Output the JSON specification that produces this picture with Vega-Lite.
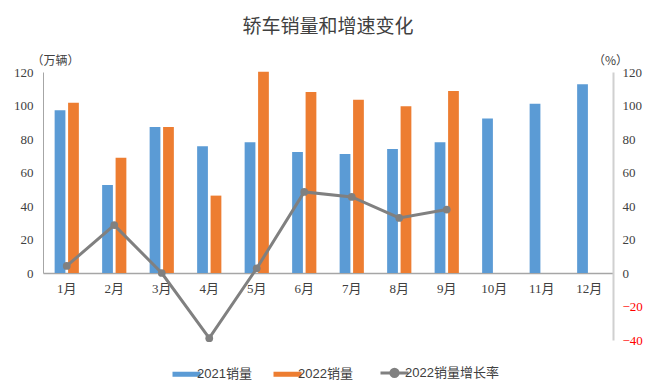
{
  "$schema": "https://vega.github.io/schema/vega-lite/v6.json",
  "width": 570,
  "height": 268,
  "autosize": "none",
  "padding": {"left": 43, "top": 72, "right": 48, "bottom": 48},
  "background": "white",
  "title": {"text": "轿车销量和增速变化", "fontSize": 19, "font": "Noto Sans CJK SC", "fontWeight": "normal", "color": "#404040", "offset": 17, "anchor": "middle"},
  "config": {
    "view": {"stroke": null},
    "axis": {"labelFont": "Liberation Serif, Noto Sans CJK SC", "labelFontSize": 13, "labelColor": "#404040", "ticks": false, "grid": false, "titleFont": "Noto Sans CJK SC", "titleFontWeight": "normal", "titleFontSize": 12, "titleColor": "#404040"}
  },
  "datasets": {
    "sales": [
      {"month": "1月", "series": "2021销量", "value": 97.2},
      {"month": "2月", "series": "2021销量", "value": 52.6},
      {"month": "3月", "series": "2021销量", "value": 87.1},
      {"month": "4月", "series": "2021销量", "value": 75.6},
      {"month": "5月", "series": "2021销量", "value": 78.0},
      {"month": "6月", "series": "2021销量", "value": 72.2},
      {"month": "7月", "series": "2021销量", "value": 71.0},
      {"month": "8月", "series": "2021销量", "value": 74.0},
      {"month": "9月", "series": "2021销量", "value": 78.0},
      {"month": "10月", "series": "2021销量", "value": 92.3},
      {"month": "11月", "series": "2021销量", "value": 101.0},
      {"month": "12月", "series": "2021销量", "value": 112.7},
      {"month": "1月", "series": "2022销量", "value": 101.6},
      {"month": "2月", "series": "2022销量", "value": 68.8},
      {"month": "3月", "series": "2022销量", "value": 87.1},
      {"month": "4月", "series": "2022销量", "value": 46.2},
      {"month": "5月", "series": "2022销量", "value": 120.2},
      {"month": "6月", "series": "2022销量", "value": 108.1},
      {"month": "7月", "series": "2022销量", "value": 103.4},
      {"month": "8月", "series": "2022销量", "value": 99.6},
      {"month": "9月", "series": "2022销量", "value": 108.7}
    ],
    "growth": [
      {"month": "1月", "rate": 4.2},
      {"month": "2月", "rate": 28.6},
      {"month": "3月", "rate": 0.0},
      {"month": "4月", "rate": -38.9},
      {"month": "5月", "rate": 2.8},
      {"month": "6月", "rate": 48.4},
      {"month": "7月", "rate": 45.4},
      {"month": "8月", "rate": 32.9},
      {"month": "9月", "rate": 37.9}
    ]
  },
  "layer": [
    {
      "data": {"name": "sales"},
      "mark": {"type": "bar"},
      "encoding": {
        "x": {
          "field": "month", "type": "nominal",
          "scale": {"domain": ["1月","2月","3月","4月","5月","6月","7月","8月","9月","10月","11月","12月"], "paddingInner": 0.49, "paddingOuter": 0.245},
          "axis": {"title": null, "labelAngle": 0, "offset": -67, "domainColor": "#A6A6A6", "domainWidth": 1.5, "labelPadding": 9}
        },
        "xOffset": {"field": "series", "type": "nominal", "scale": {"domain": ["2021销量", "2022销量"], "paddingInner": 0.2}},
        "y": {
          "field": "value", "type": "quantitative",
          "scale": {"domain": [0, 120], "range": [201, 0], "nice": false},
          "axis": {"values": [0, 20, 40, 60, 80, 100, 120], "domainColor": "#A6A6A6", "domainWidth": 1, "labelPadding": 10, "title": "（万辆）", "titleAngle": 0, "titleAlign": "center", "titleBaseline": "middle", "titleX": 12, "titleY": -12}
        },
        "color": {
          "field": "series", "type": "nominal",
          "scale": {"domain": ["2021销量", "2022销量", "2022销量增长率"], "range": ["#5B9BD5", "#ED7D31", "#808080"]},
          "legend": {
            "orient": "none", "legendX": 137, "legendY": 294, "direction": "horizontal", "title": null,
            "labelFont": "Liberation Sans, Noto Sans CJK SC", "labelFontSize": 13, "labelColor": "#404040", "columnPadding": 21, "labelOffset": 4,
            "symbolType": "M-1,-0.18H1V0.18H-1Z", "symbolSize": 784,
            "encode": {
              "symbols": {
                "update": {
                  "shape": {"signal": "datum.value === '2022销量增长率' ? 'M-1,0L1,0M0.26,0A0.26,0.26,0,1,1,-0.26,0A0.26,0.26,0,1,1,0.26,0Z' : 'M-1,-0.18H1V0.18H-1Z'"},
                  "fill": {"signal": "scale('color', datum.value)"},
                  "stroke": {"signal": "scale('color', datum.value)"},
                  "strokeWidth": {"signal": "datum.value === '2022销量增长率' ? 3 : 0"},
                  "opacity": {"value": 1}
                }
              }
            }
          }
        }
      }
    },
    {
      "data": {"name": "growth"},
      "mark": {"type": "line", "strokeWidth": 3, "point": {"filled": true, "size": 60}},
      "encoding": {
        "x": {"field": "month", "type": "nominal"},
        "y": {
          "field": "rate", "type": "quantitative",
          "scale": {"domain": [-40, 120], "nice": false},
          "axis": {
            "orient": "right", "values": [-40, -20, 0, 20, 40, 60, 80, 100, 120],
            "domainColor": "#D0D0D0", "domainWidth": 2, "labelPadding": 9,
            "labelColor": {"condition": {"test": "datum.value < 0", "value": "#FF0000"}, "value": "#404040"},
            "title": "（%）", "titleAngle": 0, "titleAlign": "center", "titleBaseline": "middle", "titleX": -3, "titleY": -12
          }
        },
        "color": {"datum": "2022销量增长率"}
      }
    }
  ],
  "resolve": {"scale": {"y": "independent"}}
}
